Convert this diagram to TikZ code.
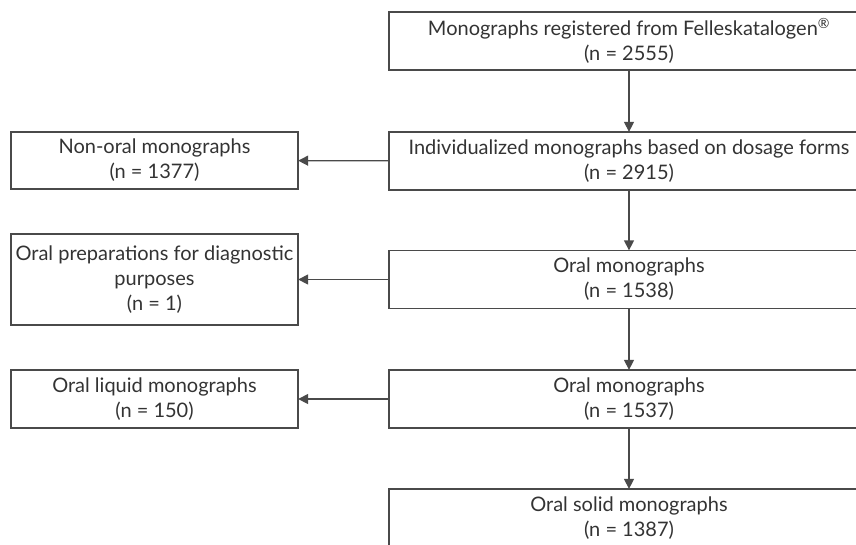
\documentclass[tikz,border=0pt]{standalone}
\usepackage{fontspec}
\setmainfont{Lato}
\usetikzlibrary{arrows.meta}
\definecolor{linec}{HTML}{4A4A4A}
\definecolor{textc}{HTML}{333333}
\begin{document}
\begin{tikzpicture}[x=1pt,y=-1pt,
  box/.style={draw=linec, line width=1.3pt, rectangle, align=center, inner sep=0pt,
    text=textc, font=\fontsize{20}{25}\selectfont},
  rbox/.style={box, minimum width=480pt, minimum height=58pt},
  lbox/.style={box, minimum width=287pt, minimum height=57pt},
  arr/.style={draw=linec, line width=1.3pt, -{Triangle[length=10pt,width=10pt]}, shorten >=-0.5pt}]
\useasboundingbox (0,0) rectangle (856,544);
\clip (0,0) rectangle (856,544);
\node[rbox] (b1) at (629,41) {Monographs registered from Felleskatalogen\textsuperscript{®}\\(n = 2555)};
\node[rbox] (b2) at (629,161) {Individualized monographs based on dosage forms\\(n = 2915)};
\node[rbox] (b3) at (629,279.5) {Oral monographs\\(n = 1538)};
\node[rbox] (b4) at (629,399) {Oral monographs\\(n = 1537)};
\node[rbox] (b5) at (629,518) {Oral solid monographs\\(n = 1387)};
\node[lbox] (l1) at (154.5,160.5) {Non-oral monographs\\(n = 1377)};
\node[lbox, minimum height=91pt] (l2) at (154.5,279.5) {Oral preparations for diagnostic\\purposes\\(n = 1)};
\node[lbox, minimum height=58pt] (l3) at (154.5,399) {Oral liquid monographs\\(n = 150)};
\draw[arr] (b1) -- (b2);
\draw[arr] (b2) -- (b3);
\draw[arr] (b3) -- (b4);
\draw[arr] (b4) -- (b5);
\draw[arr] (b2) -- (l1);
\draw[arr] (b3) -- (l2);
\draw[arr] (b4) -- (l3);
\end{tikzpicture}
\end{document}
